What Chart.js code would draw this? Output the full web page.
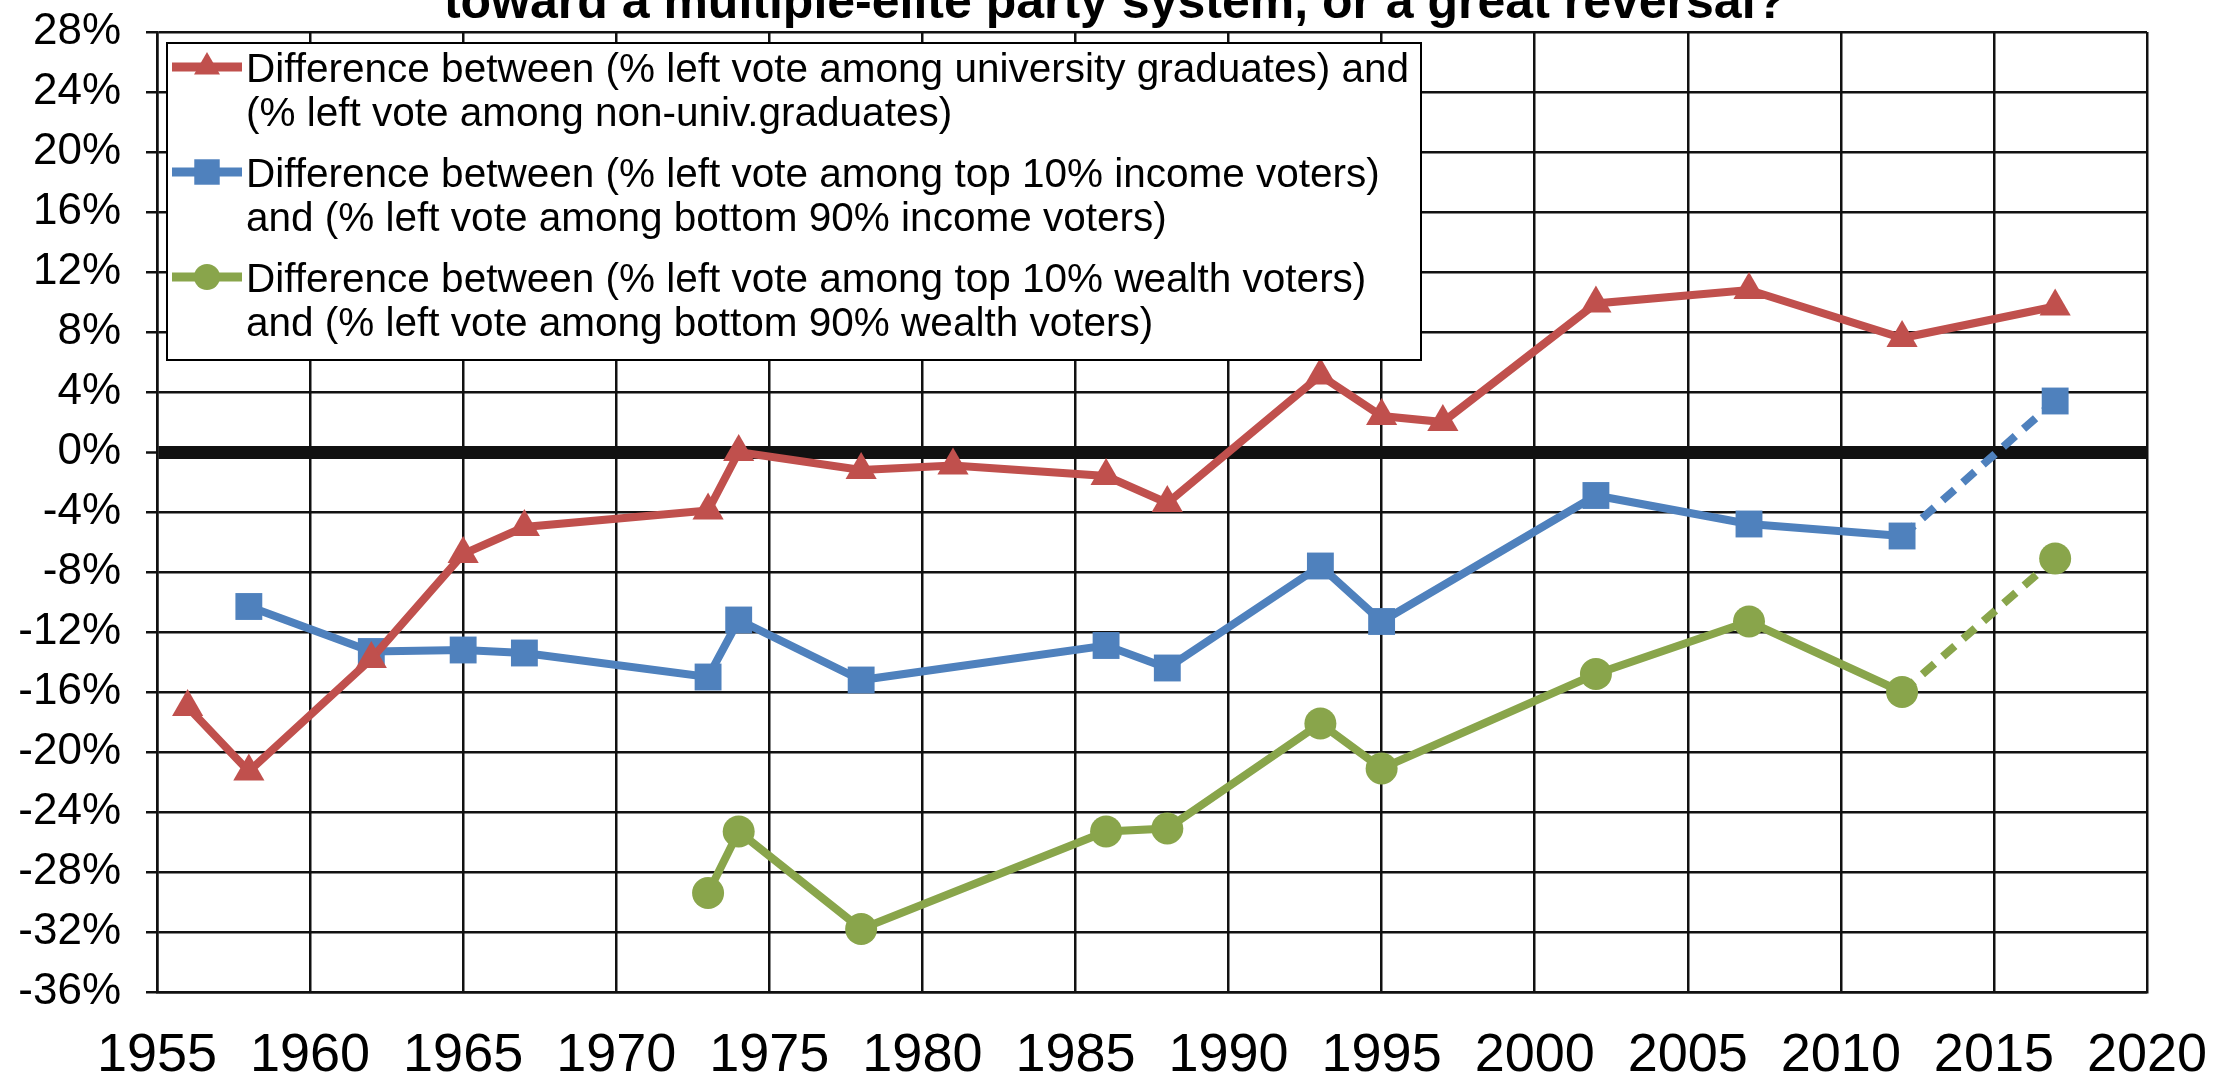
<!DOCTYPE html>
<html>
<head>
<meta charset="utf-8">
<style>
  html, body { margin: 0; padding: 0; background: #fff; }
  #wrap { width: 2214px; height: 1081px; }
</style>
</head>
<body>
<div id="wrap"><canvas id="chart" width="2214" height="1081"></canvas></div>
<script src="https://cdn.jsdelivr.net/npm/chart.js"></script>
<script>
  const titleText = "toward a multiple-elite party system, or a great reversal?";

  const eduYears = [1956, 1958, 1962, 1965, 1967, 1973, 1974, 1978, 1981, 1986, 1988, 1993, 1995, 1997, 2002, 2007, 2012, 2017];
  const eduGap = [-17.0, -21.3, -13.8, -6.8, -5.0, -3.9, 0.0, -1.2, -0.9, -1.6, -3.4, 5.1, 2.4, 2.0, 9.9, 10.8, 7.6, 9.7];

  const incomeYears = [1958, 1962, 1965, 1967, 1973, 1974, 1978, 1986, 1988, 1993, 1995, 2002, 2007, 2012, 2017];
  const incomeGap = [-10.3, -13.3, -13.2, -13.4, -15.0, -11.2, -15.2, -12.9, -14.4, -7.6, -11.3, -2.9, -4.8, -5.6, 3.4];

  const wealthYears = [1973, 1974, 1978, 1986, 1988, 1993, 1995, 2002, 2007, 2012, 2017];
  const wealthGap = [-29.4, -25.3, -31.8, -25.3, -25.1, -18.1, -21.1, -14.8, -11.3, -16.0, -7.1];

  // the last stretch (2012 -> 2017) of income & wealth lines is dashed
  const dashedFrom = 2012;

  const xTicks = [1955, 1960, 1965, 1970, 1975, 1980, 1985, 1990, 1995, 2000, 2005, 2010, 2015, 2020];
  const yTicks = [-36, -32, -28, -24, -20, -16, -12, -8, -4, 0, 4, 8, 12, 16, 20, 24, 28];

  const legendLines = [
    ["Difference between (% left vote among university graduates) and", "(% left vote among non-univ.graduates)"],
    ["Difference between (% left vote among top 10% income voters)", "and (% left vote among bottom 90% income voters)"],
    ["Difference between (% left vote among top 10% wealth voters)", "and (% left vote among bottom 90% wealth voters)"]
  ];

  const RED = "#C0504D", BLUE = "#4F81BD", GREEN = "#89A54B";
  const FONT = "'Liberation Sans', Arial, sans-serif";

  function pts(xs, ys) {
    return xs.map((x, i) => ({ x: x, y: ys[i] }));
  }
  const dashAfter = (ctx) => ctx.p0.parsed.x === dashedFrom ? [16, 11] : undefined;

  const titlePlugin = {
    id: "cutTitle",
    afterDraw(chart) {
      const c = chart.ctx;
      c.save();
      c.fillStyle = "#000";
      c.font = "bold 50px " + FONT;
      c.textAlign = "center";
      c.textBaseline = "alphabetic";
      c.fillText(titleText, 1115, 18);
      c.restore();
    }
  };

  const boxLegend = {
    id: "boxLegend",
    afterDraw(chart) {
      const c = chart.ctx;
      const a = chart.chartArea;
      const x0 = a.left + 10, y0 = a.top + 11, w = 1254, h = 317;
      c.save();
      c.fillStyle = "#fff";
      c.fillRect(x0, y0, w, h);
      c.strokeStyle = "#000";
      c.lineWidth = 2;
      c.strokeRect(x0, y0, w, h);

      const colors = [RED, BLUE, GREEN];
      const styles = ["triangle", "rect", "circle"];
      const radii = [15, 18, 13];
      const firstBase = [39, 144, 249];
      c.font = "40.5px " + FONT;
      c.textBaseline = "alphabetic";
      c.textAlign = "left";
      legendLines.forEach((lines, i) => {
        const base = y0 + firstBase[i];
        const sy = base - 15;
        c.strokeStyle = colors[i];
        c.lineWidth = 9;
        c.beginPath();
        c.moveTo(x0 + 5, sy);
        c.lineTo(x0 + 75, sy);
        c.stroke();
        c.fillStyle = colors[i];
        Chart.helpers.drawPoint(c, { pointStyle: styles[i], radius: radii[i], borderWidth: 0 }, x0 + 40, sy);
        c.fillStyle = "#000";
        c.fillText(lines[0], x0 + 79, base);
        c.fillText(lines[1], x0 + 79, base + 44);
      });
      c.restore();
    }
  };

  new Chart(document.getElementById("chart"), {
    type: "scatter",
    data: {
      datasets: [
        {
          label: legendLines[0].join(" "),
          data: pts(eduYears, eduGap),
          showLine: true,
          borderColor: RED,
          backgroundColor: RED,
          borderWidth: 8,
          pointStyle: "triangle",
          pointRadius: 18,
          pointBorderWidth: 0
        },
        {
          label: legendLines[1].join(" "),
          data: pts(incomeYears, incomeGap),
          showLine: true,
          borderColor: BLUE,
          backgroundColor: BLUE,
          borderWidth: 8,
          pointStyle: "rect",
          pointRadius: 19,
          pointBorderWidth: 0,
          segment: { borderDash: dashAfter }
        },
        {
          label: legendLines[2].join(" "),
          data: pts(wealthYears, wealthGap),
          showLine: true,
          borderColor: GREEN,
          backgroundColor: GREEN,
          borderWidth: 8,
          pointStyle: "circle",
          pointRadius: 16,
          pointBorderWidth: 0,
          segment: { borderDash: dashAfter }
        }
      ]
    },
    options: {
      responsive: false,
      animation: false,
      layout: { padding: { top: 32, right: 67, left: 0, bottom: 0 } },
      plugins: {
        legend: { display: false },
        title: { display: false },
        tooltip: { enabled: false }
      },
      scales: {
        x: {
          type: "linear",
          min: 1955,
          max: 2020,
          afterBuildTicks: (axis) => { axis.ticks = xTicks.map(v => ({ value: v })); },
          afterFit: (axis) => {
            axis.height = 89;
            axis.paddingLeft = 0;
            axis.paddingRight = 0;
          },
          ticks: {
            color: "#000",
            font: { family: FONT, size: 54 },
            padding: 32,
            maxRotation: 0,
            autoSkip: false,
            callback: (v) => String(v)
          },
          grid: { color: "#111", lineWidth: 2.5, drawTicks: false },
          border: { color: "#111", width: 2.5 }
        },
        y: {
          min: -36,
          max: 28,
          afterBuildTicks: (axis) => { axis.ticks = yTicks.map(v => ({ value: v })); },
          afterFit: (axis) => {
            axis.width = 157;
            axis.paddingTop = 0;
            axis.paddingBottom = 0;
          },
          ticks: {
            color: "#000",
            font: { family: FONT, size: 44 },
            padding: 25,
            autoSkip: false,
            callback: (v) => v + "%"
          },
          grid: {
            color: "#111",
            lineWidth: (ctx) => ctx.tick && ctx.tick.value === 0 ? 13 : 2.5,
            tickLength: 11,
            tickWidth: 2.5,
            tickColor: "#111"
          },
          border: { color: "#111", width: 2.5 }
        }
      }
    },
    plugins: [titlePlugin, boxLegend]
  });
</script>
</body>
</html>
